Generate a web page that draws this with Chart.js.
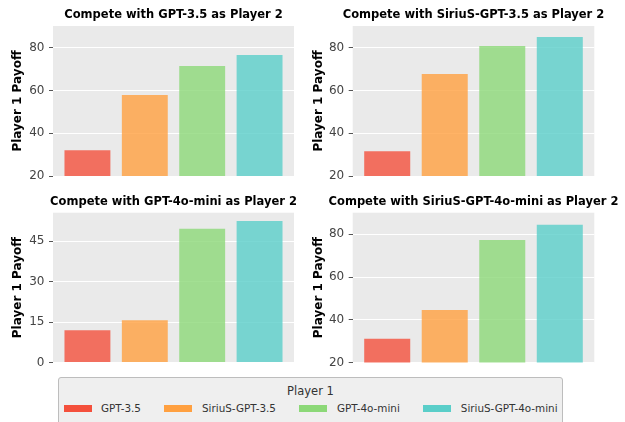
<!DOCTYPE html>
<html>
<head>
<meta charset="utf-8">
<script src="https://cdn.jsdelivr.net/npm/chart.js@4.4.0/dist/chart.umd.min.js"></script>
<style>
  body { margin: 0; background: #fff; width: 625px; height: 422px; position: relative; overflow: hidden; font-family: "DejaVu Sans", sans-serif; }
  canvas { position: absolute; }
  #legend { position: absolute; left: 58px; top: 377px; width: 505px; height: 60px; background: #EFEFEF; border: 1px solid #BDBDBD; border-radius: 3px; box-sizing: border-box; }
  #legend .ttl { position: absolute; left: 0; right: 0; top: 6px; text-align: center; font-size: 11.5px; color: #333; }
  #legend .row { position: absolute; left: 4.5px; top: 24px; display: flex; align-items: center; gap: 23.5px; white-space: nowrap; }
  #legend .item { display: flex; align-items: center; font-size: 10.4px; color: #333; }
  #legend .sw { width: 28px; height: 7px; margin-right: 9.5px; }
</style>
</head>
<body>
<canvas id="c1" width="312" height="190" style="left:0;top:0"></canvas>
<canvas id="c2" width="313" height="190" style="left:312px;top:0"></canvas>
<canvas id="c3" width="312" height="180" style="left:0;top:190px"></canvas>
<canvas id="c4" width="313" height="180" style="left:312px;top:190px"></canvas>
<div id="legend"><div class="ttl">Player 1</div><div class="row"></div></div>
<script>
// Player 1 models (one bar each)
const players = ['GPT-3.5', 'SiriuS-GPT-3.5', 'GPT-4o-mini', 'SiriuS-GPT-4o-mini']

// Player 1 payoff against each Player 2
const vsGpt35 = [32.0, 57.8, 71.4, 76.6]
const vsSiriusGpt35 = [31.6, 67.7, 80.8, 85.0]
const vsGpt4oMini = [12.0, 15.7, 49.6, 52.5]
const vsSiriusGpt4oMini = [31.1, 44.6, 77.3, 84.5]

const legendColors = ['#F4503C', '#FFA040', '#8CD878', '#5ACEC9']
const barColors = ['rgba(244,80,60,0.8)', 'rgba(255,160,64,0.8)', 'rgba(140,216,120,0.8)', 'rgba(90,206,201,0.8)']

const panelBg = {
    id: 'panelBg',
    beforeDraw(chart) {
        const a = chart.chartArea
        const ctx = chart.ctx
        ctx.save()
        ctx.fillStyle = '#EAEAEA'
        ctx.fillRect(a.left, a.top, a.right - a.left, a.bottom - a.top)
        ctx.restore()
    }
}

// let long titles overhang the plot instead of being squeezed into it
const wideTitle = {
    id: 'wideTitle',
    afterLayout(chart) {
        const t = chart.titleBlock
        const c = (chart.chartArea.left + chart.chartArea.right) / 2
        t.left = c - 152
        t.right = c + 152
    }
}

function drawPanel(id, title, values, yMin, yMax, step, pad, axisW, titlePad, yTitlePad) {
    const data = {
        datasets: [{
            data: values.map((v, i) => ({x: i, y: v})),
            backgroundColor: barColors,
            borderWidth: 0,
            barPercentage: 0.8,
            categoryPercentage: 1.0
        }]
    }

    const config = {
        type: 'bar',
        data: data,
        plugins: [panelBg, wideTitle],
        options: {
            responsive: false,
            animation: false,
            layout: { padding: pad },
            plugins: {
                legend: { display: false },
                tooltip: { enabled: false },
                title: {
                    display: true,
                    text: title,
                    fullSize: false,
                    color: '#000',
                    font: { family: 'DejaVu Sans', size: 11.5, weight: 'bold', lineHeight: 1 },
                    padding: titlePad
                }
            },
            scales: {
                x: {
                    type: 'linear', min: -0.6, max: 3.6, offset: false, display: false,
                    ticks: { stepSize: 1, includeBounds: false }
                },
                y: {
                    min: yMin,
                    max: yMax,
                    afterFit(scale) {
                        scale.width = axisW
                        scale.paddingTop = 0
                        scale.paddingBottom = 0
                    },
                    border: { display: false },
                    grid: { color: '#FFFFFF', lineWidth: 1, tickColor: '#555', tickLength: 4 },
                    ticks: {
                        stepSize: step,
                        includeBounds: false,
                        padding: 4.5,
                        color: '#444',
                        font: { family: 'DejaVu Sans', size: 12 }
                    },
                    title: {
                        display: true,
                        text: 'Player 1 Payoff',
                        color: '#000',
                        padding: yTitlePad,
                        font: { family: 'DejaVu Sans', size: 12, weight: 'bold', lineHeight: 1 }
                    }
                }
            }
        }
    }

    let ctx = document.getElementById(id).getContext('2d')
    new Chart(ctx, config)
}

drawPanel('c1', 'Compete with GPT-3.5 as Player 2', vsGpt35, 20, 90.1, 20,
    {left: 8, right: 18, top: 0, bottom: 14}, 45, {top: 9.5, bottom: 5}, {top: 4, bottom: 0})
drawPanel('c2', 'Compete with SiriuS-GPT-3.5 as Player 2', vsSiriusGpt35, 20, 90.1, 20,
    {left: 0, right: 30.7, top: 0, bottom: 14}, 40.7, {top: 9.5, bottom: 5}, {top: 0.7, bottom: 0})
drawPanel('c3', 'Compete with GPT-4o-mini as Player 2', vsGpt4oMini, 0, 55.6, 15,
    {left: 8, right: 18, top: 0, bottom: 7.5}, 45, {top: 6.5, bottom: 4.7}, {top: 4, bottom: 0})
drawPanel('c4', 'Compete with SiriuS-GPT-4o-mini as Player 2', vsSiriusGpt4oMini, 20, 90.1, 20,
    {left: 0, right: 30.7, top: 0, bottom: 7.5}, 40.7, {top: 6.5, bottom: 4.7}, {top: 0.7, bottom: 0})

// legend
let row = document.querySelector('#legend .row')
for (let i = 0; i < players.length; i++) {
    let item = document.createElement('div')
    item.className = 'item'
    item.innerHTML = `<span class="sw" style="background:${legendColors[i]}"></span>${players[i]}`
    row.appendChild(item)
}
</script>
</body>
</html>
